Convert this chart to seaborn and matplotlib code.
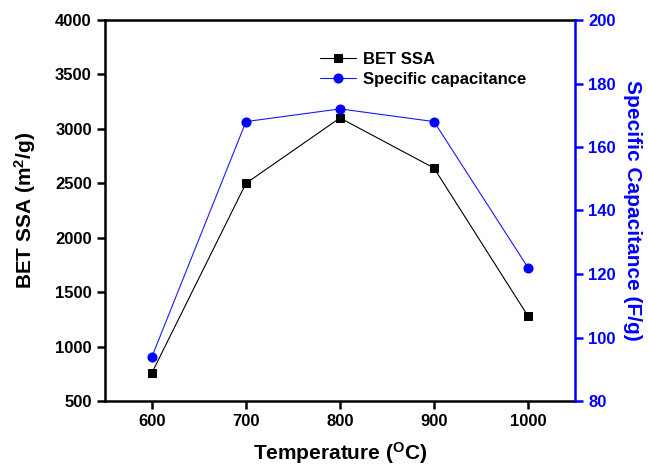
import matplotlib
matplotlib.use("Agg")
import matplotlib.pyplot as plt
import seaborn as sns
import pandas as pd

temperature = [600, 700, 800, 900, 1000]
bet_ssa = [760, 2500, 3100, 2640, 1280]
spec_cap = [94, 168, 172, 168, 122]

sns.set_style("ticks")
plt.rcParams['font.family'] = ['Liberation Sans', 'DejaVu Sans']
plt.rcParams['font.weight'] = 'bold'
plt.rcParams['text.color'] = 'black'
plt.rcParams['axes.labelcolor'] = 'black'
plt.rcParams['mathtext.fontset'] = 'custom'
plt.rcParams['mathtext.rm'] = 'Liberation Sans:bold'
plt.rcParams['mathtext.bf'] = 'Liberation Sans:bold'
plt.rcParams['mathtext.it'] = 'Liberation Sans:bold'

df = pd.DataFrame({"T": temperature, "SSA": bet_ssa, "C": spec_cap})

fig = plt.figure(figsize=(6.48, 4.67), dpi=100)
ax = fig.add_axes([105/648, 66/467, 470/648, 381/467])
ax2 = ax.twinx()

sns.lineplot(data=df, x="T", y="SSA", ax=ax, color="black", marker="s",
             markersize=5.5, markeredgecolor="black", linewidth=0.8, label="BET SSA", legend=False)
sns.lineplot(data=df, x="T", y="C", ax=ax2, color="#1a1aff", marker="o",
             markersize=6.5, markeredgecolor="#0000ff", markerfacecolor="#0000ff",
             linewidth=0.8, label="Specific capacitance", legend=False)

ax.set_xlim(550, 1050)
ax.set_ylim(500, 4000)
ax2.set_ylim(80, 200)
ax.set_xticks(temperature)
ax.set_yticks(range(500, 4001, 500))
ax2.set_yticks(range(80, 201, 20))

ax.set_xlabel(r"Temperature ($^{\mathrm{O}}$C)", fontsize=15, fontweight='bold', labelpad=8, color='black')
ax.set_ylabel(r"BET SSA (m$^{\mathrm{2}}$/g)", fontsize=15, fontweight='bold', labelpad=12, color='black')
ax2.set_ylabel("Specific Capacitance (F/g)", fontsize=15, fontweight='bold', color="#0000ff",
               rotation=270, labelpad=19)

for a in (ax, ax2):
    for s in a.spines.values():
        s.set_linewidth(1.8)
        s.set_color('black')
ax.spines['right'].set_visible(False)
ax2.spines['left'].set_visible(False)
ax2.spines['top'].set_visible(False)
ax2.spines['bottom'].set_visible(False)
ax2.spines['right'].set_color("#0000ff")

ax.tick_params(axis='both', direction='out', length=6, width=1.8, labelsize=12, colors='black')
ax2.tick_params(axis='y', direction='out', length=6, width=1.8, labelsize=12, colors='#0000ff')
for lab in ax.get_xticklabels() + ax.get_yticklabels() + ax2.get_yticklabels():
    lab.set_fontweight('bold')

h1, l1 = ax.get_legend_handles_labels()
h2, l2 = ax2.get_legend_handles_labels()
ax2.legend(h1 + h2, l1 + l2, loc='upper left', bbox_to_anchor=(0.425, 0.955), frameon=False,
           prop={'weight': 'bold', 'size': 12}, handlelength=2.2, handletextpad=0.4,
           labelspacing=0.3)

fig.savefig("out.png", dpi=100)
